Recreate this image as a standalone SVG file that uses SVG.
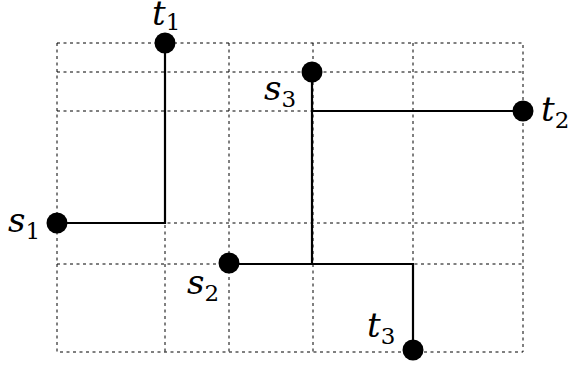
<svg xmlns="http://www.w3.org/2000/svg" width="571" height="368" viewBox="0 0 571 368">
<style>
.grid{stroke:#000;stroke-width:1;stroke-dasharray:3 3.5;fill:none}
.path{stroke:#000;stroke-width:2.2;fill:none}
.dot{fill:#000}
.lbl{font-family:'DejaVu Serif',serif;font-style:italic;font-size:34px;fill:#000}
.sub{font-style:normal;font-size:23px}
</style>
<rect width="571" height="368" fill="#fff"/>
<g id="grid">
<rect class="grid" x="57" y="43" width="466" height="309"/>
<path class="grid" d="M165 43V352M229 43V352M313 43V352M413 43V352M57 72H523M57 111H523M57 223H523M57 264H523"/>
</g>
<g id="connectors">
<path class="path" d="M165 43V223H57"/>
<path class="path" d="M312 72V264M312 111H523"/>
<path class="path" d="M229 264H413V350"/>
</g>
<g id="t1"><circle class="dot" cx="165" cy="43" r="10.5"/><text class="lbl" x="152" y="25">t<tspan class="sub" dy="5">1</tspan></text></g>
<g id="s3"><circle class="dot" cx="312" cy="72" r="10.5"/><text class="lbl" x="264" y="100">s<tspan class="sub" dy="7">3</tspan></text></g>
<g id="t2"><circle class="dot" cx="523" cy="111" r="10.5"/><text class="lbl" x="541" y="121">t<tspan class="sub" dy="7">2</tspan></text></g>
<g id="s1"><circle class="dot" cx="57" cy="223" r="10.5"/><text class="lbl" x="8" y="232">s<tspan class="sub" dy="7">1</tspan></text></g>
<g id="s2"><circle class="dot" cx="229" cy="263" r="10.5"/><text class="lbl" x="187" y="294">s<tspan class="sub" dy="7">2</tspan></text></g>
<g id="t3"><circle class="dot" cx="413" cy="350" r="10.5"/><text class="lbl" x="367" y="337">t<tspan class="sub" dy="7">3</tspan></text></g>
</svg>
